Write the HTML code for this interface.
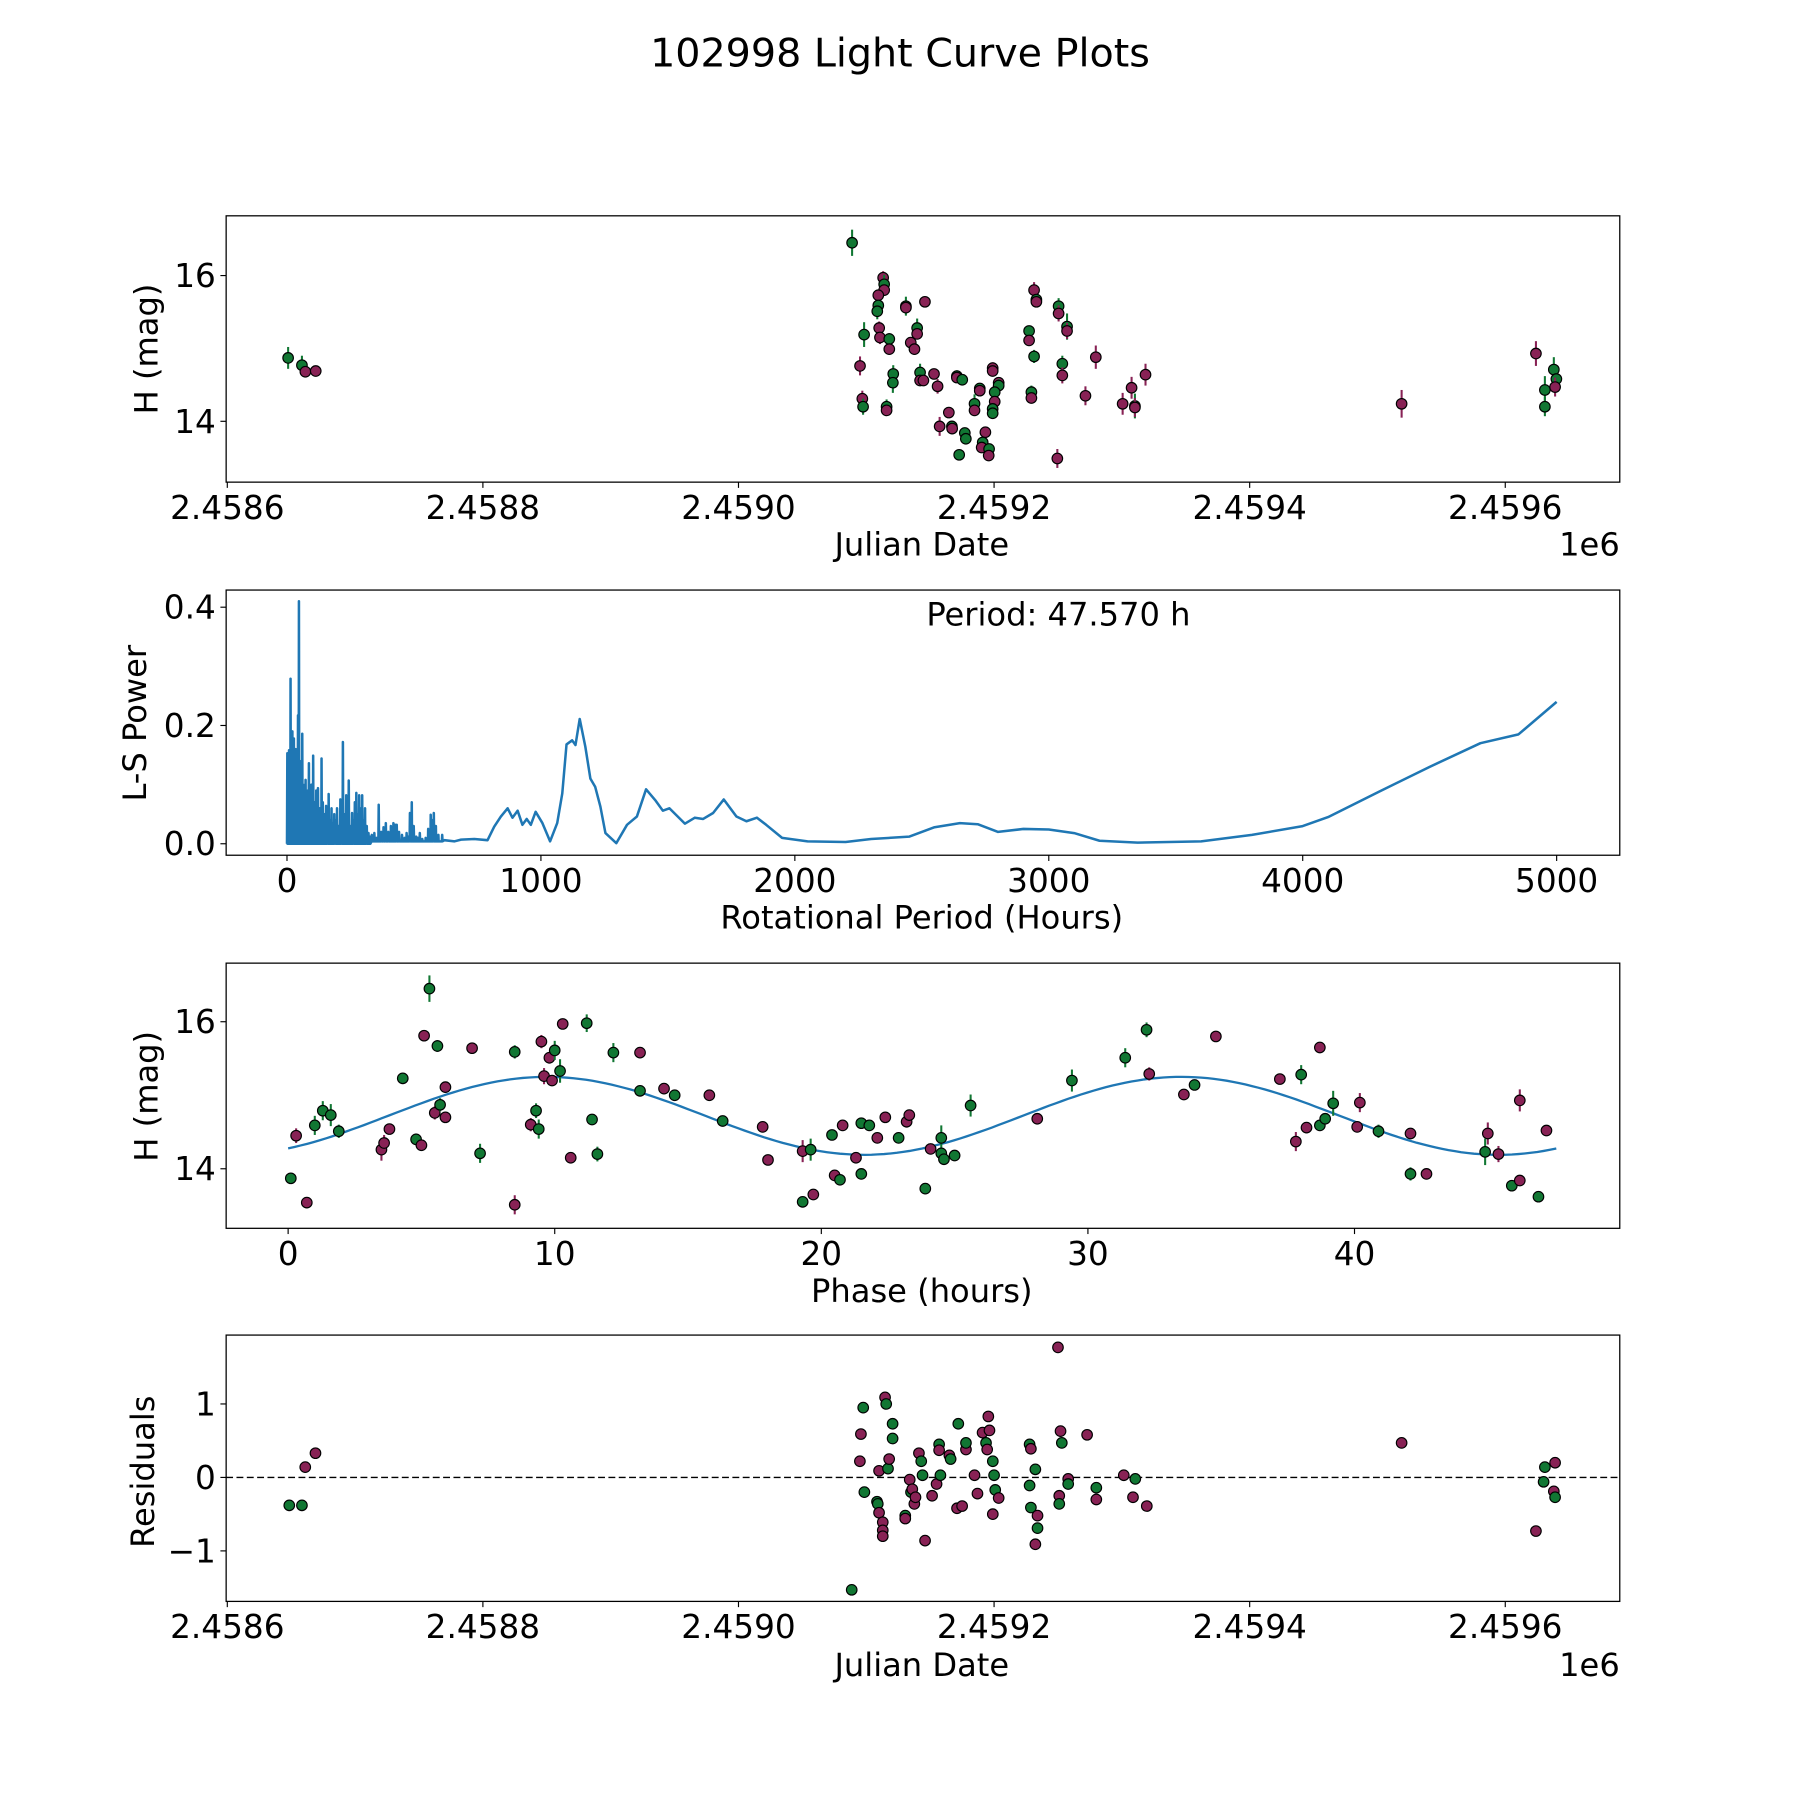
<!DOCTYPE html>
<html><head><meta charset="utf-8"><style>
html,body{margin:0;padding:0;background:#fff;}
svg{display:block;font-family:"DejaVu Sans","Liberation Sans",sans-serif;}
</style></head>
<body>
<svg id="fig" width="1800" height="1800" viewBox="0 0 1568 1568" xmlns="http://www.w3.org/2000/svg">
<rect width="1568" height="1568" fill="#fff"/>
<text x="784" y="58" font-size="34.5" text-anchor="middle">102998 Light Curve Plots</text>
</svg>
<script>
const JD_BASE = 2458600;
const COLORS = {g:'#117733', m:'#882255'};
// Panel 1: Julian date vs H
const lcDays = [47.6,58.4,61.1,69.2,488.9,513.2,514,514,509.4,509.4,508.6,498.3,510.1,510.7,518,518,531,531,545.9,539.8,539.8,534.8,537.7,495.1,496.9,497.5,515.9,515.9,521.1,520.8,542.1,542.1,544.7,553,555.8,557.4,567,567.2,564.6,570.9,570.9,575.1,572.7,577.1,577.9,588.8,588.8,584.7,584.7,591.1,590.3,593.2,596.1,595.8,598.9,598.9,603.6,603.6,600.5,600.5,598.9,598.9,627.4,627.4,631.3,633.1,633.1,631.3,629.2,629.2,650.5,650.5,657.1,657.1,653.4,653.4,649.5,671.5,679.6,700.6,707.6,710.2,710.2,718.5,918.9,1024,1031,1031,1038,1040,1039];
const lcMag = [14.87,14.77,14.68,14.69,16.45,15.97,15.88,15.80,15.73,15.59,15.51,15.19,15.28,15.15,15.13,14.99,15.58,15.56,15.64,15.28,15.20,15.08,14.99,14.76,14.31,14.20,14.20,14.15,14.65,14.53,14.67,14.56,14.56,14.65,14.48,13.93,13.93,13.90,14.12,14.62,14.60,14.57,13.54,13.84,13.76,14.45,14.42,14.24,14.15,13.71,13.64,13.85,13.62,13.53,14.73,14.69,14.53,14.49,14.40,14.27,14.17,14.11,15.24,15.11,15.80,15.67,15.64,14.89,14.40,14.32,15.58,15.48,15.30,15.24,14.79,14.63,13.49,14.35,14.88,14.24,14.46,14.21,14.19,14.64,14.24,14.93,14.43,14.20,14.71,14.58,14.47];
const lcErr = [0.12,0.1,0.04,0.04,0.15,0.06,0.1,0.05,0.05,0.05,0.08,0.14,0.06,0.06,0.05,0.04,0.1,0.04,0.04,0.1,0.04,0.04,0.04,0.1,0.08,0.08,0.07,0.04,0.09,0.11,0.09,0.04,0.04,0.04,0.07,0.1,0.04,0.04,0.04,0.05,0.04,0.04,0.04,0.04,0.04,0.04,0.04,0.1,0.04,0.04,0.04,0.04,0.04,0.04,0.05,0.04,0.04,0.06,0.04,0.04,0.04,0.04,0.04,0.04,0.08,0.04,0.04,0.06,0.06,0.04,0.08,0.08,0.15,0.08,0.08,0.08,0.1,0.1,0.13,0.12,0.12,0.14,0.1,0.12,0.16,0.14,0.16,0.1,0.14,0.1,0.1];
const lcCol = ['g','g','m','m','g','m','g','m','m','g','g','g','m','m','g','m','g','m','m','g','m','m','m','m','m','g','g','m','g','g','g','m','m','m','m','m','g','m','m','g','m','g','g','g','g','g','m','g','m','g','m','m','g','m','m','m','m','g','g','m','g','g','g','m','m','g','m','g','g','m','g','m','g','m','g','m','m','m','m','m','m','g','m','m','m','m','g','g','g','g','m'];
// Panel 2: periodogram
const spikePeriod = [0,3,7,10,13,16,20,23,26,30,33,37,42,46,50,54,59,63,67,72,76,80,85,90,95,102,108,114,121,128,135,140,146,153,158,163,168,174,180,185,190,196,202,209,214,219,225,232,237,242,248,255,261,266,272,277,283,290,295,300,306,313,320,326,333,343,352,360,370,379,388,398,408,418,425,431,440,452,462,470,476,483,490,498,508,515,522,532,545,555,565,571,577,585,595,610];
const spikePower = [0.153,0.12,0.158,0.14,0.279,0.16,0.19,0.15,0.178,0.13,0.16,0.12,0.217,0.41,0.14,0.12,0.186,0.1,0.09,0.108,0.07,0.09,0.136,0.08,0.1,0.149,0.07,0.09,0.094,0.06,0.144,0.07,0.05,0.064,0.05,0.084,0.04,0.06,0.035,0.05,0.04,0.06,0.03,0.075,0.045,0.172,0.05,0.082,0.06,0.107,0.03,0.052,0.04,0.07,0.086,0.05,0.082,0.06,0.082,0.04,0.06,0.03,0.018,0.012,0.015,0.018,0.01,0.066,0.02,0.028,0.035,0.02,0.03,0.035,0.032,0.032,0.02,0.015,0.01,0.018,0.012,0.052,0.07,0.03,0.012,0.01,0.018,0.008,0.01,0.025,0.049,0.04,0.052,0.03,0.015,0.015];
const smoothPeriod = [620,660,686,738,790,816,842,869,888,908,927,944,960,979,1006,1036,1064,1084,1101,1123,1136,1153,1175,1195,1214,1234,1254,1297,1339,1378,1414,1450,1480,1506,1567,1606,1639,1678,1720,1770,1809,1851,1887,1950,2050,2200,2300,2450,2550,2650,2720,2800,2900,3000,3100,3200,3350,3600,3800,4000,4100,4300,4500,4700,4850,5000];
const smoothPower = [0.006,0.004,0.007,0.008,0.006,0.029,0.046,0.06,0.044,0.056,0.032,0.042,0.032,0.054,0.035,0.004,0.035,0.085,0.168,0.175,0.167,0.211,0.164,0.11,0.096,0.063,0.018,0.001,0.032,0.046,0.092,0.074,0.056,0.06,0.034,0.044,0.042,0.052,0.075,0.046,0.038,0.044,0.032,0.01,0.004,0.003,0.008,0.012,0.028,0.035,0.033,0.02,0.025,0.024,0.018,0.005,0.002,0.004,0.015,0.03,0.045,0.088,0.13,0.17,0.185,0.24];
const xTicks2 = [0,1000,2000,3000,4000,5000];
const yTicks2 = [0.0,0.2,0.4];
// Panel 3: phase-folded
const phase = [0.1,0.3,0.7,1.0,1.3,1.6,1.9,3.5,3.6,3.8,4.3,4.8,5.0,5.1,5.3,5.5,5.6,5.7,5.9,5.9,6.9,7.2,8.5,8.5,9.1,9.3,9.4,9.5,9.6,9.8,9.9,10.0,10.2,10.3,10.6,11.2,11.4,11.6,12.2,13.2,13.2,14.1,14.5,15.8,16.3,17.8,18.0,19.3,19.3,19.6,19.7,20.4,20.5,20.7,20.8,21.3,21.5,21.5,21.8,22.1,22.4,22.9,23.2,23.3,23.9,24.1,24.5,24.5,24.6,25.0,25.6,28.1,29.4,31.4,32.2,32.3,33.6,34.0,34.8,37.2,37.8,38.0,38.2,38.7,38.7,38.9,39.2,40.1,40.2,40.9,42.1,42.1,42.7,44.9,45.0,45.4,45.9,46.2,46.2,46.9,47.2];
const phaseMag = [13.87,14.45,13.54,14.59,14.79,14.73,14.51,14.26,14.35,14.54,15.23,14.40,14.32,15.81,16.45,14.76,15.67,14.87,15.11,14.70,15.64,14.21,15.59,13.51,14.60,14.79,14.54,15.73,15.26,15.51,15.20,15.61,15.33,15.97,14.15,15.98,14.67,14.20,15.58,15.58,15.06,15.09,15.0,15.0,14.65,14.57,14.12,13.55,14.24,14.26,13.65,14.46,13.91,13.85,14.59,14.15,14.62,13.93,14.59,14.42,14.70,14.42,14.64,14.73,13.73,14.27,14.42,14.21,14.13,14.18,14.86,14.68,15.20,15.51,15.89,15.29,15.01,15.14,15.80,15.22,14.37,15.28,14.56,15.65,14.59,14.68,14.89,14.57,14.90,14.51,13.93,14.48,13.93,14.23,14.48,14.20,13.77,13.84,14.93,13.62,14.52];
const phaseErr = [0.04,0.07,0.04,0.1,0.1,0.12,0.06,0.12,0.08,0.04,0.04,0.05,0.04,0.04,0.15,0.06,0.05,0.06,0.04,0.04,0.04,0.1,0.06,0.1,0.06,0.07,0.1,0.06,0.08,0.05,0.04,0.1,0.13,0.04,0.04,0.09,0.04,0.07,0.1,0.04,0.04,0.04,0.04,0.04,0.04,0.04,0.04,0.04,0.12,0.12,0.04,0.04,0.04,0.04,0.04,0.04,0.04,0.04,0.04,0.04,0.04,0.04,0.05,0.04,0.04,0.04,0.14,0.04,0.04,0.04,0.12,0.04,0.12,0.1,0.07,0.06,0.04,0.04,0.04,0.04,0.1,0.1,0.04,0.04,0.04,0.04,0.14,0.04,0.1,0.06,0.06,0.04,0.04,0.15,0.12,0.08,0.04,0.04,0.12,0.04,0.04];
const phaseCol = ['g','m','m','g','g','g','g','m','m','m','g','g','m','m','g','m','g','g','m','m','m','g','g','m','m','g','g','m','m','m','m','g','g','m','m','g','g','g','g','m','g','m','g','m','g','m','m','g','m','g','m','g','m','g','m','m','g','g','g','m','m','g','m','m','g','m','g','g','g','g','g','m','g','g','g','m','m','g','m','m','m','g','m','m','g','g','g','m','m','g','g','m','m','g','m','m','g','m','m','g','m'];
const fitMean = 14.72, fitAmp = 0.53, fitPeak = 9.7, fitCycle = 23.8, foldPeriod = 47.57;
const xTicks3 = [0,10,20,30,40];
// Panel 4: residuals
const resDays = [48.5,58.4,61,69,488.6,497.6,495.8,495,498.5,508.4,509,510,510,512.9,512.9,512.9,514.7,515.6,517,517.9,520.6,520.6,530.5,530.5,534,535,536,537.6,538.5,541.2,543,544,546,551.5,555,557,557,558,565,566,572,571,575,578,578,584.7,587,591,593.7,594.6,595.5,596.4,599,600,599,600.9,603.6,627.8,628.8,627.8,628.8,632.3,632.3,634,634,650,652,653,651,651,658,658,672.8,680,680,701.5,708.7,710.5,719.5,918.9,1024,1031,1030,1038,1039,1039];
const resVal = [-0.38,-0.38,0.14,0.33,-1.53,0.95,0.59,0.22,-0.2,-0.33,-0.36,0.09,-0.48,-0.61,-0.72,-0.8,1.09,1.0,0.12,0.25,0.73,0.53,-0.52,-0.56,-0.03,-0.2,-0.16,-0.36,-0.27,0.33,0.22,0.03,-0.86,-0.25,-0.09,0.45,0.37,0.03,0.3,0.25,0.73,-0.42,-0.39,0.38,0.47,0.03,-0.22,0.61,0.47,0.38,0.83,0.64,0.22,0.03,-0.5,-0.17,-0.28,0.45,0.39,-0.11,-0.41,-0.91,0.11,-0.69,-0.52,1.77,0.63,0.47,-0.25,-0.36,-0.02,-0.09,0.58,-0.14,-0.3,0.03,-0.27,-0.02,-0.39,0.47,-0.73,0.14,-0.06,-0.19,-0.27,0.2];
const resCol = ['g','g','m','m','g','g','m','m','g','g','g','m','m','m','m','m','m','g','g','m','g','g','g','m','m','g','m','m','m','m','g','g','m','m','m','g','m','g','m','g','g','m','m','m','g','m','m','m','g','m','m','m','g','g','m','g','m','g','m','g','g','m','g','g','m','m','m','g','m','g','m','g','m','g','m','m','m','g','m','m','m','g','g','m','g','m'];
const jdTicks = [2458600,2458800,2459000,2459200,2459400,2459600];
const jdTickLabels = ['2.4586','2.4588','2.4590','2.4592','2.4594','2.4596'];

const svg = document.getElementById('fig');
const NS = 'http://www.w3.org/2000/svg';
function mk(tag, attrs, parent){const e=document.createElementNS(NS,tag);for(const k in attrs)e.setAttribute(k,attrs[k]);(parent||svg).appendChild(e);return e;}
function scale(d0,d1,p0,p1){return v=>p0+(v-d0)/(d1-d0)*(p1-p0);}

function makeAxes(name, L,R,T,B, xmin,xmax,ymin,ymax){
  const g = mk('g',{});
  
  
  return {g, x:scale(xmin,xmax,L,R), y:scale(ymin,ymax,B,T), L,R,T,B};
}
function frame(ax){
  const r = mk('rect',{x:ax.L,y:ax.T,width:ax.R-ax.L,height:ax.B-ax.T,fill:'none',stroke:'#000','stroke-width':1.1},ax.g);
  
  
}
function xTicks(ax, vals, labels){
  vals.forEach((v,i)=>{
    const px=ax.x(v);
    mk('line',{x1:px,x2:px,y1:ax.B,y2:ax.B+5,stroke:'#000','stroke-width':1},ax.g);
    const t=mk('text',{x:px,y:ax.B+32,'font-size':28.5,'text-anchor':'middle'},ax.g);
    
    
    t.textContent=labels[i];
  });
}
function yTicks(ax, vals, labels){
  vals.forEach((v,i)=>{
    const py=ax.y(v);
    mk('line',{x1:ax.L-5,x2:ax.L,y1:py,y2:py,stroke:'#000','stroke-width':1},ax.g);
    const t=mk('text',{x:ax.L-9,y:py+10,'font-size':28.5,'text-anchor':'end'},ax.g);
    
    
    t.textContent=labels[i];
  });
}
function label(ax, txt, x, y, rot, nm){
  const t=mk('text',{x:x,y:y,'font-size':28,'text-anchor':'middle',transform:rot?`rotate(-90 ${x} ${y})`:''},ax.g);
  
  
  t.textContent=txt;
}
function points(ax, xs, ys, errs, cols){
  xs.forEach((xv,i)=>{
    const px=ax.x(xv), py=ax.y(ys[i]), c=COLORS[cols[i]];
    if(errs){
      const e=mk('line',{x1:px,x2:px,y1:ax.y(ys[i]-errs[i]-0.03),y2:ax.y(ys[i]+errs[i]+0.03),stroke:c,'stroke-width':1.8},ax.g);
      
      
    }
    const d=mk('circle',{cx:px,cy:py,r:4.6,fill:c,stroke:'#000','stroke-width':1},ax.g);
    
    
  });
}

// Panel 1
const a1 = makeAxes('light-curve-panel',197,1411,188,420, JD_BASE-0.9, JD_BASE+1089.6, 13.165, 16.82);
frame(a1);
points(a1, lcDays.map(d=>JD_BASE+d), lcMag, lcErr, lcCol);
xTicks(a1, jdTicks, jdTickLabels);
yTicks(a1, [14,16], ['14','16']);
label(a1,'Julian Date',803,484,false,'x-axis-title');
label(a1,'H (mag)',137,304,true,'y-axis-title');
let e6=mk('text',{x:1411,y:484,'font-size':28,'text-anchor':'end'},a1.g); e6.textContent='1e6';



// Panel 2
const a2 = makeAxes('periodogram-panel',197,1411,514,745,-239.6,5248.6,-0.0194,0.429);
frame(a2);
let pts=[];
spikePeriod.forEach((p,i)=>{const base = p<330?0:0.004; pts.push([p,base]); pts.push([p+1.2,spikePower[i]]); pts.push([p+2.4,base]);});
smoothPeriod.forEach((p,i)=>pts.push([p,smoothPower[i]]));
const pl=mk('polyline',{points:pts.map(q=>a2.x(q[0]).toFixed(1)+','+a2.y(q[1]).toFixed(1)).join(' '),fill:'none',stroke:'#1f77b4','stroke-width':2.2,'stroke-linejoin':'round'},a2.g);


xTicks(a2, xTicks2, xTicks2.map(String));
yTicks(a2, yTicks2, yTicks2.map(v=>v.toFixed(1)));
label(a2,'Rotational Period (Hours)',803,809,false,'x-axis-title');
label(a2,'L-S Power',127,630,true,'y-axis-title');
let pt=mk('text',{x:922,y:545,'font-size':28,'text-anchor':'middle'},a2.g); pt.textContent='Period: 47.570 h';



// Panel 3
const a3 = makeAxes('phase-folded-panel',197,1411,839,1070,-2.325,49.95,13.19,16.797);
frame(a3);
let fit=[];
for(let k=0;k<=200;k++){const ph=foldPeriod*k/200; fit.push([ph, fitMean+fitAmp*Math.cos(2*Math.PI*(ph-fitPeak)/fitCycle)]);}
const fl=mk('polyline',{points:fit.map(q=>a3.x(q[0]).toFixed(1)+','+a3.y(q[1]).toFixed(1)).join(' '),fill:'none',stroke:'#1f77b4','stroke-width':2},a3.g);


points(a3, phase, phaseMag, phaseErr, phaseCol);
xTicks(a3, xTicks3, xTicks3.map(String));
yTicks(a3, [14,16], ['14','16']);
label(a3,'Phase (hours)',803,1134,false,'x-axis-title');
label(a3,'H (mag)',137,955,true,'y-axis-title');

// Panel 4
const a4 = makeAxes('residuals-panel',197,1411,1163,1395, JD_BASE-0.9, JD_BASE+1089.6, -1.6875, 1.9375);
frame(a4);
const zl=mk('line',{x1:a4.L,x2:a4.R,y1:a4.y(0),y2:a4.y(0),stroke:'#000','stroke-width':1.2,'stroke-dasharray':'6,3'},a4.g);


points(a4, resDays.map(d=>JD_BASE+d), resVal, null, resCol);
xTicks(a4, jdTicks, jdTickLabels);
yTicks(a4, [-1,0,1], ['\u22121','0','1']);
label(a4,'Julian Date',803,1460,false,'x-axis-title');
label(a4,'Residuals',134,1282,true,'y-axis-title');
let e6b=mk('text',{x:1411,y:1460,'font-size':28,'text-anchor':'end'},a4.g); e6b.textContent='1e6';


</script>
</body></html>
